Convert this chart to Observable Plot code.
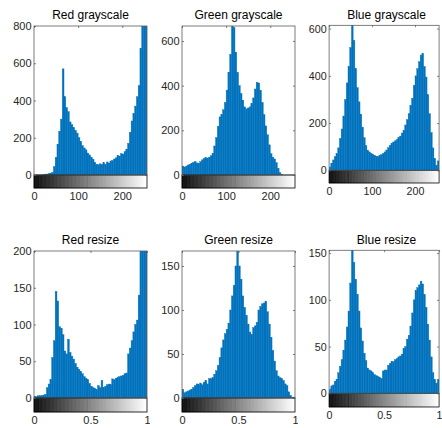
<!DOCTYPE html>
<html><head><meta charset="utf-8">
<script src="https://cdn.jsdelivr.net/npm/d3@7"></script>
<script src="https://cdn.jsdelivr.net/npm/@observablehq/plot@0.6"></script>
<style>
html,body{margin:0;padding:0;background:#fff;}
#root{position:relative;width:442px;height:428px;overflow:hidden;background:#fff;font-family:"Liberation Sans",Arial,sans-serif;}
.ttl{position:absolute;font-size:12px;line-height:14px;font-weight:normal;color:#000;white-space:nowrap;transform:translateX(-50%);}
.pnl{position:absolute;}
</style></head><body><div id="root"></div>
<script>
const titles = ["Red grayscale","Green grayscale","Blue grayscale","Red resize","Green resize","Blue resize"];

const redGray = [0,0,0,0,0,1,3,5,7,9, 14,45,95,165,235,300,570,420,362,340, 285,270,255,240,225,200,180,158,145,135, 118,108,96,85,68,58,55,60,56,66, 58,70,64,75,78,86,92,105,102,115, 112,125,139,170,230,290,330,370,420,480, 680,900,1000,1100];
const greenGray = [40,36,40,45,48,52,57,60,54,52, 60,68,74,78,76,80,86,98,130,168, 218,260,270,292,325,380,460,540,700,660, 550,460,400,365,335,305,296,300,305,320, 345,385,415,412,380,325,270,220,180,135, 95,80,72,55,30,10,3,0,0,0, 0,0,0,0];
const blueGray = [14,30,44,58,70,95,135,175,230,300, 370,440,520,630,550,430,350,290,238,183, 138,104,85,78,72,68,64,60,58,63, 66,72,78,86,96,106,115,120,125,130, 138,145,158,170,192,215,240,275,305,360, 400,430,460,488,495,440,395,320,240,160, 95,50,22,40];
const redResize = [2,2,3,3,3,4,5,14,19,25, 55,78,145,132,97,95,86,64,60,80, 62,57,53,47,42,39,36,33,29,27, 25,20,16,14,13,12,17,14,24,14, 16,18,19,18,26,25,27,28,29,30, 31,33,34,60,68,78,90,100,106,140, 210,230,250,260];
const greenResize = [10,6,7,8,9,10,12,14,16,15, 17,15,18,20,16,22,22,23,27,31, 37,46,57,66,73,78,85,100,116,128, 150,172,150,135,116,103,94,84,75,72, 80,82,86,100,104,107,108,110,98,84, 69,54,42,31,25,23,22,20,16,14, 7,3,1,1];
const blueResize = [4,8,9,13,15,22,29,36,46,57, 71,88,118,156,140,122,106,88,70,56, 43,35,27,25,24,22,20,19,18,17, 16,24,25,25,30,32,34,34,36,37, 39,40,42,48,50,58,62,72,86,100, 110,113,116,120,117,106,92,74,57,39, 22,15,11,15];

const series = [redGray, greenGray, blueGray, redResize, greenResize, blueResize];
const yMax = [800, 667, 614, 200, 167, 153];
const yTicks = [[0,200,400,600,800],[0,200,400,600],[0,200,400,600],[0,50,100,150,200],[0,50,100,150],[0,50,100,150]];
const xTicksGray = [0,100,200];
const xTicksResize = [0,0.5,1];
const xMaxGray = 256, xMaxResize = 1;
const grayLevels = d3.range(256);

// layout
const colLeft = [0,148,296];
const rowTop = [0,224];
const svgH = [215,204];
const mTop = [26,27];
const histH = [149,147];
const cbH = [13,14];
const titleTop = [8,233];
const W = 150, mL = 34, mR = 3;
const font = '"Liberation Sans",Arial,sans-serif';
const root = document.getElementById("root");

series.forEach((vals,i)=>{
  const row = Math.floor(i/3), col = i%3;
  const xmax = row===0 ? xMaxGray : xMaxResize;
  const xt = row===0 ? xTicksGray : xTicksResize;
  const n = vals.length, w = xmax/n;
  const bins = vals.map((v,k)=>({x1:k*w, x2:(k+1)*w, v}));
  const ymax = yMax[i];
  const ymin = -ymax*cbH[row]/histH[row];
  const yPerPx = ymax/histH[row];
  const xPerPx = xmax/(W-mL-mR);
  const levels = grayLevels.map(g=>({x1:g*xmax/256, x2:(g+1)*xmax/256, c:`rgb(${g},${g},${g})`}));
  const svg = Plot.plot({
    width: W, height: svgH[row],
    marginLeft: mL, marginRight: mR, marginTop: mTop[row],
    marginBottom: svgH[row]-mTop[row]-histH[row]-cbH[row],
    x:{domain:[0,xmax], label:null},
    y:{domain:[ymin,ymax], label:null},
    color:{type:"identity"},
    style:{fontFamily:font, fontSize:"11px", color:"#262626", background:"transparent"},
    marks:[
      Plot.rectY(bins,{x1:"x1", x2:"x2", y:"v", fill:"#0072BD", stroke:"#0072BD", strokeWidth:0.4, clip:true}),
      Plot.rect(levels,{x1:"x1", x2:"x2", y1:ymin, y2:0, fill:"c", stroke:"c", strokeWidth:0.3}),
      Plot.rect([0],{x1:0, x2:xmax, y1:ymin, y2:0, stroke:"#000", fill:"none", strokeWidth:0.8}),
      Plot.rect([0],{x1:0, x2:xmax, y1:0, y2:ymax, stroke:"#5a5a5a", fill:"none", strokeWidth:0.8}),
      Plot.ruleX(xt,{y1:ymax, y2:ymax-2*yPerPx, stroke:"#5a5a5a", strokeWidth:0.8}),
      Plot.ruleY(yTicks[i],{x1:xmax, x2:xmax-2*xPerPx, stroke:"#5a5a5a", strokeWidth:0.8}),
      Plot.ruleY(yTicks[i],{x1:0, x2:2*xPerPx, stroke:"#5a5a5a", strokeWidth:0.8}),
      Plot.axisY(yTicks[i],{tickSize:0, tickPadding:3, fill:"#262626", tickFormat:d=>String(d)}),
      Plot.axisX(xt,{tickSize:0, tickPadding:4, fill:"#262626", tickFormat:d=>String(d)})
    ]
  });
  const box = document.createElement("div");
  box.className = "pnl";
  box.style.left = colLeft[col]+"px";
  box.style.top = rowTop[row]+"px";
  box.appendChild(svg);
  root.appendChild(box);
  const t = document.createElement("div");
  t.className = "ttl";
  t.textContent = titles[i];
  t.style.left = (colLeft[col]+mL+(W-mL-mR)/2)+"px";
  t.style.top = titleTop[row]+"px";
  root.appendChild(t);
});
</script></body></html>
